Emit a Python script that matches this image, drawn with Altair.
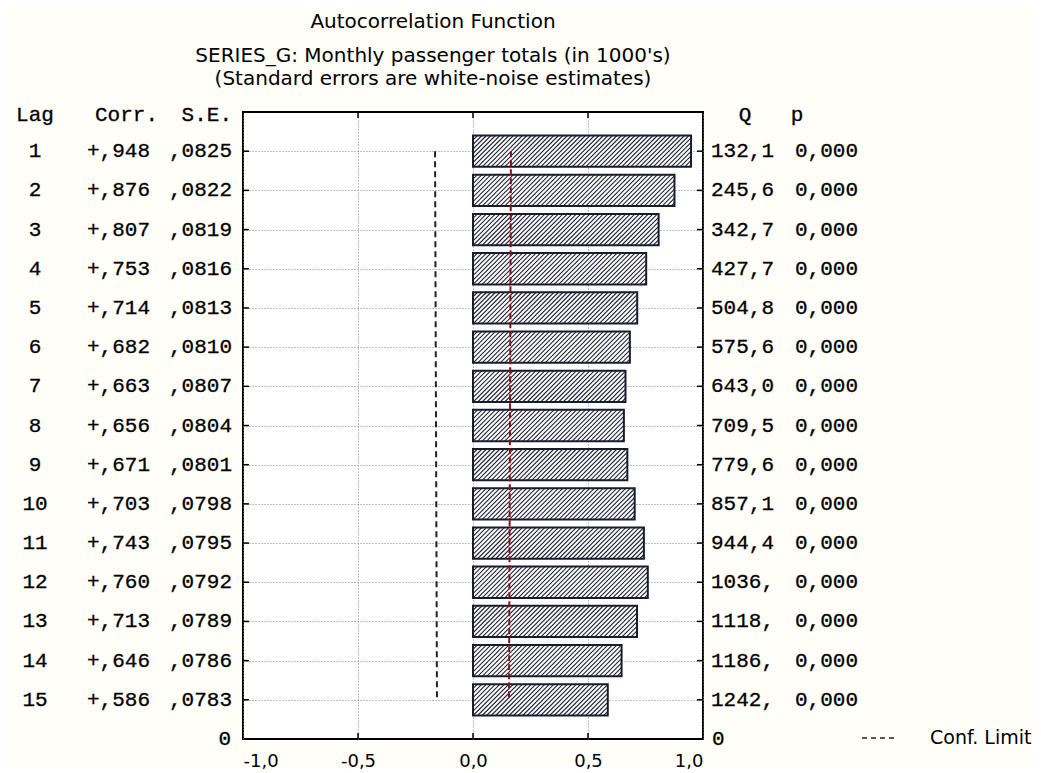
import altair as alt
import pandas as pd
import numpy as np

# ---------------- data ----------------
lags = list(range(1, 16))
corr = [0.948, 0.876, 0.807, 0.753, 0.714, 0.682, 0.663, 0.656, 0.671, 0.703,
        0.743, 0.760, 0.713, 0.646, 0.586]
se = [0.0825, 0.0822, 0.0819, 0.0816, 0.0813, 0.0810, 0.0807, 0.0804, 0.0801,
      0.0798, 0.0795, 0.0792, 0.0789, 0.0786, 0.0783]
q_txt = ["132,1", "245,6", "342,7", "427,7", "504,8", "575,6", "643,0", "709,5",
         "779,6", "857,1", "944,4", "1036,", "1118,", "1186,", "1242,"]
p_txt = ["0,000"] * 15
x_ticks = [-1.0, -0.5, 0.0, 0.5, 1.0]
title_lines = ["Autocorrelation Function",
               "SERIES_G: Monthly passenger totals (in 1000's)",
               "(Standard errors are white-noise estimates)"]
legend_label = "Conf. Limit"

# ---------------- derived tables ----------------
W, H = 460, 627
YMAX = 16
half = 0.4

df = pd.DataFrame({
    "lag": lags,
    "corr": corr,
    "se": se,
    "lo": [-2 * s for s in se],
    "hi": [2 * s for s in se],
    "y1": [l - half for l in lags],
    "y2": [l + half for l in lags],
    "corr_txt": ["+," + f"{c:.3f}"[2:] for c in corr],
    "se_txt": ["," + f"{s:.4f}"[2:] for s in se],
    "q": q_txt,
    "p": p_txt,
})

# hatch segments inside each bar (derived from the bar values)
px_x = W / 2.0
px_y = H / YMAX
bh = 2 * half * px_y
step = 4.5
rows = []
for l, c in zip(lags, corr):
    wpx = c * px_x
    off = -bh
    while off < wpx:
        h1 = max(0.0, -off)
        h2 = min(bh, wpx - off)
        if h2 > h1:
            rows.append({
                "hx1": (off + h1) / px_x, "hx2": (off + h2) / px_x,
                "hy1": l + half - h1 / px_y, "hy2": l + half - h2 / px_y,
            })
        off += step
hatch = pd.DataFrame(rows)

dummy = pd.DataFrame({"a": [0]})
tick_df = pd.DataFrame({"t": [-0.5, 0.0, 0.5]})

xs = alt.Scale(domain=[-1, 1], nice=False, zero=False)
ys = alt.Scale(domain=[0, YMAX], reverse=True, nice=False, zero=False)

SANS = "DejaVu Sans"
MONO = "Liberation Mono"
DARK = "#1b1b30"

base = alt.Chart(df)

# axes + grids
axes = base.mark_point(opacity=0).encode(
    x=alt.X("corr:Q", scale=xs, title=None,
            axis=alt.Axis(values=x_ticks, grid=True, gridDash=[1, 2], gridColor="#808080",
                          gridWidth=1, ticks=False, domain=False, labelFont=SANS,
                          labelFontSize=18, labelColor="black", labelPadding=13,
                          labelExpr="replace(replace(format(datum.value, '.1f'), '.', ','), '\u2212', '-')")),
    y=alt.Y("lag:Q", scale=ys, title=None,
            axis=alt.Axis(values=lags, grid=True, gridDash=[1, 2], gridColor="#808080",
                          gridWidth=1, ticks=False, domain=False, labels=False)),
)

conf_lo = base.mark_line(color="#222222", strokeWidth=2, strokeDash=[6, 4]).encode(
    x=alt.X("lo:Q", scale=xs), y=alt.Y("lag:Q", scale=ys), order="lag:Q")

bars_fill = base.mark_rect(fill="white").encode(
    x=alt.X("corr:Q", scale=xs), x2=alt.datum(0),
    y=alt.Y("y1:Q", scale=ys), y2="y2:Q")

hatch_lines = alt.Chart(hatch).mark_rule(color="#22223a", strokeWidth=1.1).encode(
    x=alt.X("hx1:Q", scale=xs), x2="hx2:Q",
    y=alt.Y("hy1:Q", scale=ys), y2="hy2:Q")

bars_outline = base.mark_rect(fillOpacity=0, stroke=DARK, strokeWidth=2).encode(
    x=alt.X("corr:Q", scale=xs), x2=alt.datum(0),
    y=alt.Y("y1:Q", scale=ys), y2="y2:Q")

conf_hi = base.mark_line(color="#8b1010", strokeWidth=2, strokeDash=[6, 3]).encode(
    x=alt.X("hi:Q", scale=xs), y=alt.Y("lag:Q", scale=ys), order="lag:Q")

# small inward ticks
tick_left = base.mark_rule(color="black", strokeWidth=1.5).encode(
    x=alt.value(0), x2=alt.value(6), y=alt.Y("lag:Q", scale=ys))
tick_right = base.mark_rule(color="black", strokeWidth=1.5).encode(
    x=alt.value(W - 6), x2=alt.value(W), y=alt.Y("lag:Q", scale=ys))
tick_top = alt.Chart(tick_df).mark_rule(color="black", strokeWidth=1.5).encode(
    x=alt.X("t:Q", scale=xs), y=alt.value(0), y2=alt.value(6))
tick_bot = alt.Chart(tick_df).mark_rule(color="black", strokeWidth=1.5).encode(
    x=alt.X("t:Q", scale=xs), y=alt.value(H - 6), y2=alt.value(H))

# table text
def col(field, xpos, align):
    return base.mark_text(font=MONO, fontSize=21, align=align, baseline="middle",
                          color="black", stroke="black", strokeWidth=0.3).encode(
        x=alt.value(xpos), y=alt.Y("lag:Q", scale=ys), text=f"{field}:N")

t_lag = col("lag", -208, "center")
t_corr = col("corr_txt", -93, "right")
t_se = col("se_txt", -11, "right")
t_q = col("q", 468, "left")
t_p = col("p", 552, "left")

def label(txt, xpos, ypos, align="left", font=MONO, size=21, baseline="middle", sw=0.3):
    return alt.Chart(dummy).mark_text(font=font, fontSize=size, align=align,
                                      baseline=baseline, color="black",
                                      stroke="black", strokeWidth=sw).encode(
        x=alt.value(xpos), y=alt.value(ypos), text=alt.value(txt))

headers = [
    label("Lag", -208, 3, "center"),
    label("Corr.", -148, 3, "left"),
    label("S.E.", -11, 3, "right"),
    label("Q", 502, 3, "center"),
    label("p", 554, 3, "center"),
    label("0", -12, H, "right"),
    label("0", 469, H, "left"),
]

titles = [
    label(title_lines[0], 190, -84, "center", SANS, 20, "alphabetic", 0),
    label(title_lines[1], 190, -50, "center", SANS, 20, "alphabetic", 0),
    label(title_lines[2], 190, -27, "center", SANS, 20, "alphabetic", 0),
]

legend_rule = alt.Chart(dummy).mark_rule(color="#222222", strokeWidth=1.5,
                                         strokeDash=[5, 4]).encode(
    x=alt.value(619), x2=alt.value(652), y=alt.value(H - 1))
legend_text = label(legend_label, 687, H - 1, "left", SANS, 19, "middle", 0)

chart = alt.layer(
    axes, conf_lo, bars_fill, hatch_lines, bars_outline, conf_hi,
    tick_left, tick_right, tick_top, tick_bot,
    t_lag, t_corr, t_se, t_q, t_p, *headers, *titles, legend_rule, legend_text,
).properties(
    width=W, height=H,
    autosize=alt.AutoSizeParams(type="none"),
    padding={"left": 235, "top": 104, "right": 330, "bottom": 30},
    background="#fffef9",
).configure_view(stroke="black", strokeWidth=2, fill="white")

chart.save("out.html", embed_options={"renderer": "svg", "actions": False})
